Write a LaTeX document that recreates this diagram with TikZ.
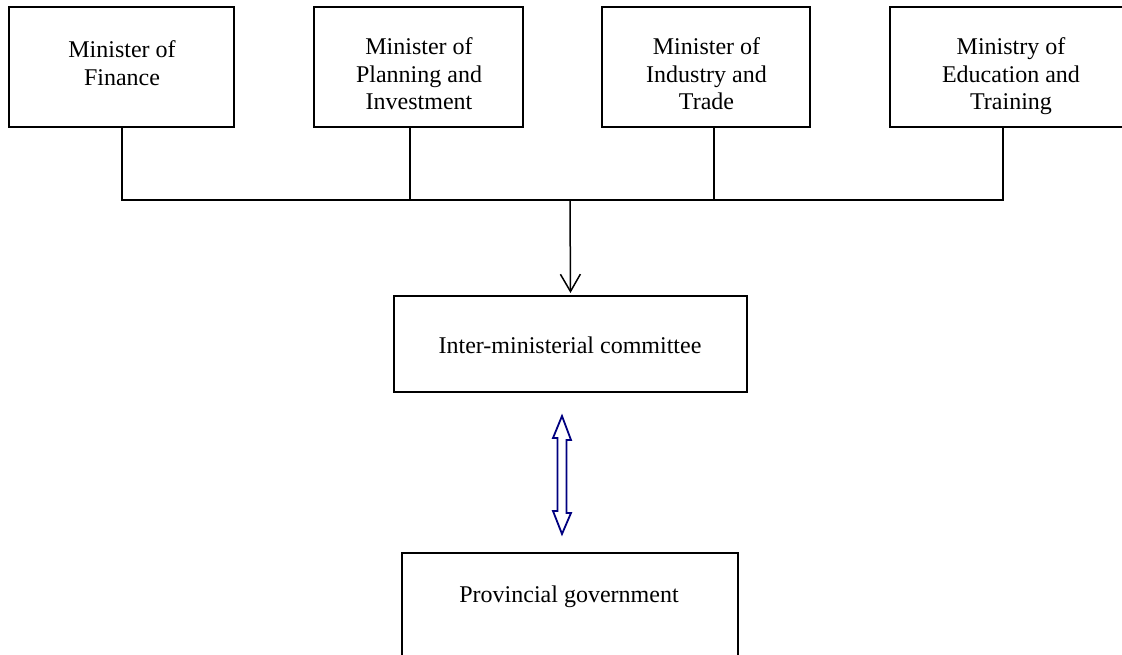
\documentclass[tikz,border=0pt]{standalone}
\usepackage{fontspec}
\setmainfont{Liberation Serif}
\usetikzlibrary{arrows.meta}
\definecolor{navyarrow}{RGB}{0,0,128}
\begin{document}
\begin{tikzpicture}[x=1pt,y=-1pt,
  box/.style={draw,line width=2pt,inner sep=0pt},
  lbl/.style={font=\fontsize{24}{27.5}\selectfont,align=center,inner sep=0pt},
  link/.style={line width=2pt},
  feed/.style={line width=1.5pt,-{Straight Barb[angle=60:20pt,line width=1.5pt]},shorten >=2pt},
  dbl/.style={draw=navyarrow,line width=1.8pt,line join=miter}]
\clip (0,0) rectangle (1122,655);
\fill[white] (0,0) rectangle (1122,655);
% top boxes
\node[box,minimum width=225pt,minimum height=120pt] (fin) at (121.5,67) {};
\node[box,minimum width=209pt,minimum height=120pt] (plan) at (418.5,67) {};
\node[box,minimum width=208pt,minimum height=120pt] (ind) at (706,67) {};
\node[box,minimum width=242pt,minimum height=120pt] (edu) at (1011,67) {};
\node[lbl,anchor=north] (fint) at (122,40.5) {Minister of\\Finance};
\node[lbl,anchor=north] (plant) at (419,37.5) {Minister of\\Planning and\\Investment};
\node[lbl,anchor=north] (indt) at (706.5,37.5) {Minister of\\Industry and\\Trade};
\node[lbl,anchor=north] (edut) at (1011,37.5) {Ministry of\\Education and\\Training};
% middle and bottom boxes
\node[box,minimum width=353pt,minimum height=96pt] (imc) at (570.5,344) {};
\node[lbl,anchor=base] (imct) at (570,353) {Inter-ministerial committee};
\node[box,minimum width=336pt,minimum height=147pt] (prov) at (570,626.5) {};
\node[lbl,anchor=base] (provt) at (569,602) {Provincial government};
% bus
\coordinate (bus) at (570,200);
\draw[link] (fin.south) |- (bus);
\draw[link] ([xshift=-8.5pt]plan.south) |- (bus);
\draw[link] ([xshift=8pt]ind.south) |- (bus);
\draw[link] ([xshift=-8pt]edu.south) |- (bus);
\draw[feed] (bus) -- (imc.north);
% double arrow
\path (imc.south) ++(-8.5,23) coordinate (dtop);
\path (prov.north) ++(-8,-18) coordinate (dbot);
\draw[dbl] (dtop) -- ++(9,24) -- ++(-4.5,0) -- ++(0,73) -- ++(4.5,0) -- (dbot)
  -- ++(-9,-23) -- ++(4.5,0) -- ++(0,-73) -- ++(-4.5,0) -- cycle;
\end{tikzpicture}
\end{document}
